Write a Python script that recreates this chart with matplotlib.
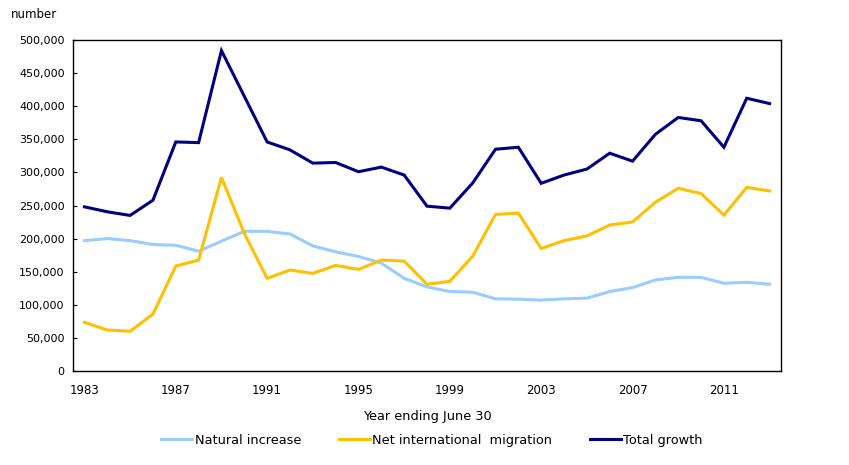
import matplotlib
matplotlib.use("Agg")
import matplotlib.pyplot as plt
from matplotlib.ticker import FuncFormatter

years = list(range(1983, 2014))
natural = [197, 200, 197, 191, 190, 181, 196, 211, 211, 207, 189, 180, 173, 163, 140,
           127, 120, 119, 109, 108.5, 107, 109, 110, 120, 126, 137.5, 141.5, 141.5, 132.5, 134, 131]
migration = [73.5, 62, 60, 86, 158.5, 167.5, 292.5, 208, 140, 152.5, 147.5, 159.5, 153.5, 167.5, 166,
             131, 135.5, 173.5, 236.5, 238.5, 185, 197, 204, 220.5, 225, 255, 276, 268, 235.5, 277.5, 272]
total = [248, 240.5, 235, 258, 346, 345, 484, 415, 346, 334, 314, 315, 301, 308, 296,
         249, 246, 284, 335, 338, 283.5, 296, 305, 329, 317, 357.5, 383, 378, 338, 412, 404]
series = [("Natural increase", natural, "#99ccff"),
          ("Net international  migration", migration, "#ffc000"),
          ("Total growth", total, "#000080")]

plt.rcParams['font.family'] = ['DejaVu Sans']

fig = plt.figure(figsize=(8.49, 4.65), dpi=100)
ax = fig.add_axes([73 / 849, 94 / 465, 708 / 849, 331 / 465])

for name, vals, col in series:
    ax.plot(years, [v * 1000 for v in vals], color=col, lw=2.2, label=name,
            solid_joinstyle='miter')

ax.set_xlim(1982.5, 2013.5)
ax.set_ylim(0, 500000)
ax.set_yticks(range(0, 500001, 50000))
ax.yaxis.set_major_formatter(FuncFormatter(lambda v, p: f"{int(v):,}"))
ax.set_xticks(range(1983, 2014, 4))
ax.tick_params(axis='y', direction='in', length=3, width=0.8, labelsize=8, pad=6)
ax.tick_params(axis='x', length=0, labelsize=8.5, pad=9)
for s in ax.spines.values():
    s.set_linewidth(1.0)

ax.set_xlabel("Year ending June 30", fontsize=9.3, labelpad=10)
fig.text(11 / 849, 1 - 14 / 465, "number", fontsize=8.5, va='center', ha='left')

leg = fig.legend(loc='center', bbox_to_anchor=(432 / 849, 1 - 440 / 465), ncol=3,
                 frameon=False, fontsize=9.3, handlelength=2.4, handletextpad=0.2,
                 columnspacing=2.9)

fig.savefig("out.png", dpi=100)
